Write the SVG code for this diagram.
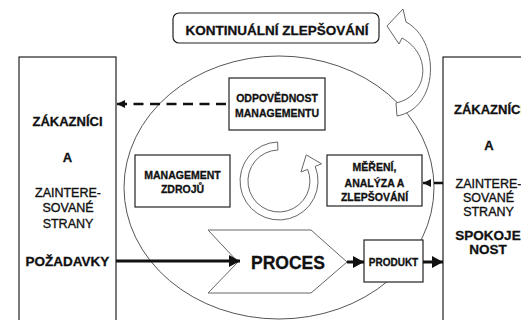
<svg xmlns="http://www.w3.org/2000/svg" width="521" height="320" viewBox="0 0 521 320">
<defs>
<style>
.box{fill:#fff;stroke:#222;stroke-width:1.2}
.thin{fill:#fff;stroke:#666;stroke-width:1}
.b{font-family:"Liberation Sans",Arial,sans-serif;font-weight:bold;fill:#111;stroke:#111;stroke-width:0.3;text-anchor:middle}
.r{font-family:"Liberation Sans",Arial,sans-serif;fill:#111;stroke:#111;stroke-width:0.35;text-anchor:middle}
.thick{stroke:#111;stroke-width:3;fill:none}
.dash{stroke:#111;stroke-width:2.7;fill:none}
</style>
<marker id="ah" markerUnits="userSpaceOnUse" markerWidth="11" markerHeight="12" refX="11" refY="6" orient="auto">
<path d="M0,0 L11,6 L0,12 z" fill="#111"/>
</marker>
<marker id="ahs" markerUnits="userSpaceOnUse" markerWidth="8" markerHeight="8" refX="8" refY="4" orient="auto">
<path d="M0,0 L8,4 L0,8 z" fill="#111"/>
</marker>
</defs>
<rect width="521" height="320" fill="#fff"/>

<g id="zakaznici-pozadavky">
<rect class="box" x="19" y="57" width="97" height="280"/>
<text class="b" x="67.5" y="126" font-size="13">ZÁKAZNÍCI</text>
<text class="b" x="67.5" y="162" font-size="13">A</text>
<text class="r" x="68" y="197" font-size="12.5">ZAINTERE-</text>
<text class="r" x="68" y="212" font-size="12.5">SOVANÉ</text>
<text class="r" x="68" y="228" font-size="12.5">STRANY</text>
<text class="b" x="67.5" y="266" font-size="13.5">POŽADAVKY</text>
</g>

<g id="zakaznici-spokojenost">
<rect class="box" x="443" y="57" width="100" height="280"/>
<text class="b" x="489" y="114" font-size="13">ZÁKAZNÍCI</text>
<text class="b" x="489" y="150" font-size="13">A</text>
<text class="r" x="488.5" y="188" font-size="12.5">ZAINTERE-</text>
<text class="r" x="488.5" y="202" font-size="12.5">SOVANÉ</text>
<text class="r" x="488.5" y="216" font-size="12.5">STRANY</text>
<text class="b" x="488" y="240" font-size="13.5">SPOKOJE</text>
<text class="b" x="488" y="254" font-size="13.5">NOST</text>
</g>

<g id="cyklus">
<ellipse cx="279" cy="187.5" rx="155" ry="131.5" fill="none" stroke="#555" stroke-width="1"/>
</g>

<g id="kontinualni-zlepsovani">
<rect class="box" x="173" y="13" width="206" height="30" rx="6"/>
<text class="b" x="277" y="34.5" font-size="13.5">KONTINUÁLNÍ ZLEPŠOVÁNÍ</text>
<path class="thin" d="M396,103 C428,96 433,55 402,38 L399,44 L387,26 L403,9 L406,22 C440,40 440,108 397,116 Z"/>
</g>

<g id="odpovednost">
<rect class="box" x="229" y="78" width="96" height="52"/>
<text class="b" x="277" y="102" font-size="10.5">ODPOVĚDNOST</text>
<text class="b" x="277" y="117" font-size="10.5">MANAGEMENTU</text>
</g>

<g id="zdroje">
<rect class="box" x="135" y="155" width="95" height="52"/>
<text class="b" x="182.5" y="179" font-size="10.5">MANAGEMENT</text>
<text class="b" x="182.5" y="193" font-size="10.5">ZDROJŮ</text>
</g>

<g id="kruh">
<path class="thin" d="M277.6,142 A39,39 0 1 0 315.2,166.4 L321.5,163.8 L306.2,154.9 L301,172 L307.7,169.4 A31,31 0 1 1 277.9,150 Z"/>
</g>

<g id="mereni">
<rect class="box" x="327" y="155" width="95" height="51"/>
<text class="b" x="374.5" y="171" font-size="10.5">MĚŘENÍ,</text>
<text class="b" x="374.5" y="187" font-size="10.5">ANALÝZA A</text>
<text class="b" x="374.5" y="201" font-size="10.5">ZLEPŠOVÁNÍ</text>
</g>

<g id="proces">
<path class="thin" d="M208,230 L311,230 L347,262 L311,293 L208,293 L238,262 Z"/>
<text class="b" x="288" y="269" font-size="18" textLength="74" lengthAdjust="spacingAndGlyphs">PROCES</text>
</g>

<g id="produkt">
<rect class="box" x="364" y="240" width="59" height="42"/>
<text class="b" x="393.5" y="266" font-size="10">PRODUKT</text>
</g>

<g id="connectors">
<line class="dash" x1="226" y1="104" x2="117" y2="104" stroke-dasharray="10 6.5" marker-end="url(#ahs)"/>
<line class="dash" x1="443" y1="183" x2="423" y2="183" stroke-dasharray="9 3" marker-end="url(#ahs)"/>
<line class="thick" x1="116" y1="261" x2="240" y2="261" marker-end="url(#ah)"/>
<line class="thick" x1="347" y1="262" x2="364" y2="262" marker-end="url(#ah)"/>
<line class="thick" x1="423" y1="262" x2="443" y2="262" marker-end="url(#ah)"/>
</g>
</svg>
